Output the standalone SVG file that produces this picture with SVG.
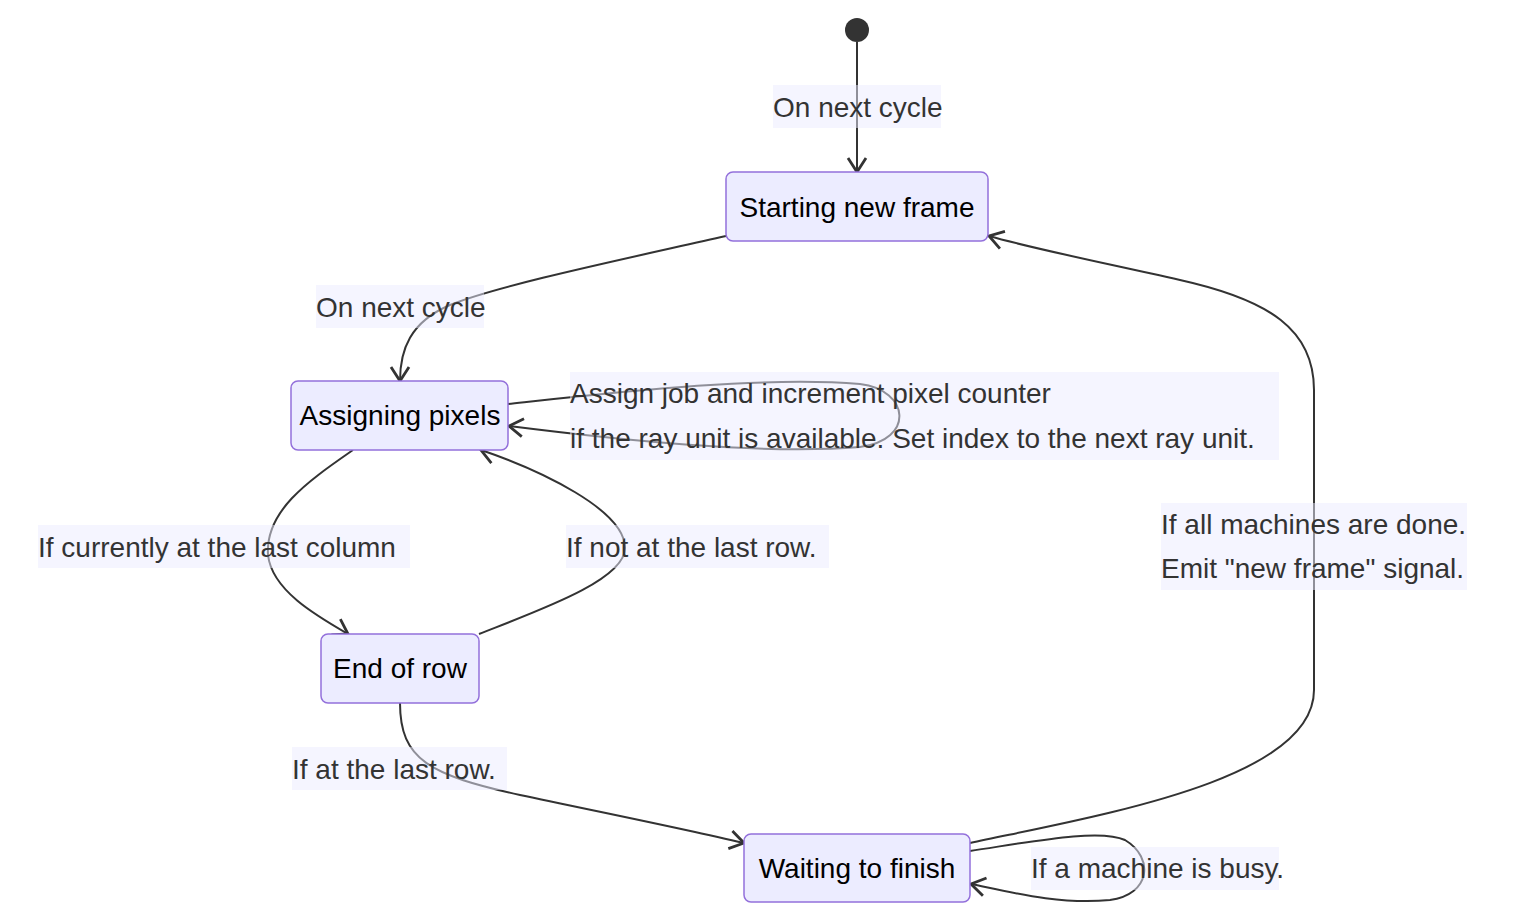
<svg xmlns="http://www.w3.org/2000/svg" width="1530" height="922" viewBox="0 0 1530 922">
<defs>
<style>
.node rect{fill:#ECECFF;stroke:#9370DB;stroke-width:1.5}
.node text{font-family:"Liberation Sans",Arial,sans-serif;font-size:28px;fill:#000;text-anchor:middle;dominant-baseline:central}
.edge{fill:none;stroke:#333;stroke-width:2}
.lbl rect{fill:#ECECFF;opacity:0.5}
.lbl text{font-family:"Liberation Sans",Arial,sans-serif;font-size:28px;fill:#333;dominant-baseline:central}
</style>
<marker id="arr" viewBox="0 0 18 22" refX="16" refY="11" markerWidth="18" markerHeight="22" markerUnits="userSpaceOnUse" orient="auto">
<path d="M2,2 L16,11 L2,20" fill="none" stroke="#333" stroke-width="2.8" stroke-linejoin="miter"/>
</marker>
</defs>
<rect width="1530" height="922" fill="#fff"/>
<g id="start"><circle cx="857" cy="30" r="12" fill="#333"/></g>
<g id="connectors">
<path class="edge" d="M857,42 L857,172" marker-end="url(#arr)"/>
<path class="edge" d="M726,236 C620,260 500,285 450,305 C410,322 400,350 400,381" marker-end="url(#arr)"/>
<path class="edge" d="M508,404 C620,392 760,376 860,384 C910,390 915,440 860,447 C760,455 620,440 509,426" marker-end="url(#arr)"/>
<path class="edge" d="M353,450 C310,480 265,510 268,555 C272,590 315,615 348,634" marker-end="url(#arr)"/>
<path class="edge" d="M479,634 C540,610 625,580 625,548 C625,510 540,470 481,450" marker-end="url(#arr)"/>
<path class="edge" d="M400,703 C400,760 430,775 520,795 C600,812 680,828 744,843" marker-end="url(#arr)"/>
<path class="edge" d="M970,843 C1100,815 1314,780 1314,690 L1314,390 C1314,330 1270,300 1180,280 C1100,262 1030,248 989,236" marker-end="url(#arr)"/>
<path class="edge" d="M970,851 C1030,842 1100,828 1125,840 C1155,858 1150,895 1110,900 C1060,905 1010,892 971,884" marker-end="url(#arr)"/>
</g>
<g id="labels">
<g class="lbl"><rect x="773" y="85" width="168" height="43"/><text x="773" y="107">On next cycle</text></g>
<g class="lbl"><rect x="316" y="285" width="168" height="43"/><text x="316" y="307">On next cycle</text></g>
<g class="lbl"><rect x="570" y="372" width="709" height="88"/><text x="570" y="393">Assign job and increment pixel counter</text><text x="570" y="438">if the ray unit is available. Set index to the next ray unit.</text></g>
<g class="lbl"><rect x="38" y="525" width="372" height="43"/><text x="38" y="547">If currently at the last column</text></g>
<g class="lbl"><rect x="566" y="525" width="263" height="43"/><text x="566" y="547">If not at the last row.</text></g>
<g class="lbl"><rect x="292" y="747" width="215" height="43"/><text x="292" y="769">If at the last row.</text></g>
<g class="lbl"><rect x="1161" y="503" width="306" height="87"/><text x="1161" y="524">If all machines are done.</text><text x="1161" y="568">Emit "new frame" signal.</text></g>
<g class="lbl"><rect x="1031" y="847" width="248" height="43"/><text x="1031" y="868">If a machine is busy.</text></g>
</g>
<g id="n1" class="node"><rect x="726" y="172" width="262" height="69" rx="7"/><text x="857" y="207">Starting new frame</text></g>
<g id="n2" class="node"><rect x="291" y="381" width="217" height="69" rx="7"/><text x="400" y="415">Assigning pixels</text></g>
<g id="n3" class="node"><rect x="321" y="634" width="158" height="69" rx="7"/><text x="400" y="668">End of row</text></g>
<g id="n4" class="node"><rect x="744" y="834" width="226" height="68" rx="7"/><text x="857" y="868">Waiting to finish</text></g>
</svg>
